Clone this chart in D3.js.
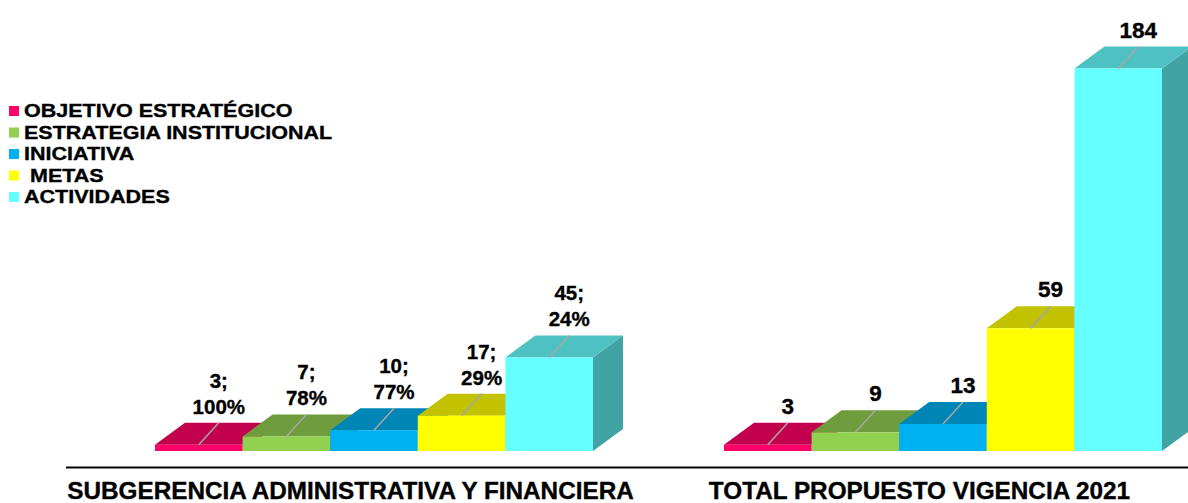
<!DOCTYPE html>
<html>
<head>
<meta charset="utf-8">
<script src="https://cdn.jsdelivr.net/npm/d3@7"></script>
<style>
  html, body { margin: 0; padding: 0; background: #ffffff; }
  svg { display: block; }
  text { font-family: "Liberation Sans", Arial, Helvetica, sans-serif; font-weight: bold; fill: #000; stroke: #000; stroke-width: 0.35px; }
</style>
</head>
<body>
<svg id="chart" width="1188" height="503"></svg>
<script>
// ---- data ----
const groups = ["SUBGERENCIA ADMINISTRATIVA Y FINANCIERA", "TOTAL PROPUESTO VIGENCIA 2021"];
const seriesNames = ["OBJETIVO ESTRATÉGICO", "ESTRATEGIA INSTITUCIONAL", "INICIATIVA", " METAS", "ACTIVIDADES"];
const subgerenciaValues = [3, 7, 10, 17, 45];
const subgerenciaPercent = [100, 78, 77, 29, 24];
const totalValues = [3, 9, 13, 59, 184];

// ---- styles ----
const frontColors = ["#ff0066", "#92d050", "#00b0f0", "#ffff00", "#66ffff"];
const topColors   = ["#c2004e", "#6f9c3d", "#0086b6", "#c2c200", "#4ec2c2"];
const sideColors  = ["#a30042", "#5d8333", "#00719a", "#a3a300", "#41a3a3"];

const W = 1188, H = 503;
const svg = d3.select("#chart");

const depthX = 30, depthY = 22;
const baseY = 451;

const groupData = [
  { name: groups[0], values: subgerenciaValues, pct: subgerenciaPercent, fontSize: 20.5 },
  { name: groups[1], values: totalValues, pct: null, fontSize: 22.5 }
];

const x0 = d3.scaleBand().domain(groups).range([66, 66 + 2 * 569]);
const x1 = d3.scaleBand().domain(seriesNames)
  .range([89, 89 + 438]).paddingInner(0).paddingOuter(0);
const y = d3.scaleLinear().domain([0, d3.max(totalValues)]).range([baseY, 68.5]);

// ---- bars ----
groupData.forEach(g => {
  const gx = x0(g.name);
  const layer = svg.append("g");
  g.values.forEach((v, i) => {
    const xl = gx + x1(seriesNames[i]);
    const xr = xl + x1.bandwidth();
    const yt = y(v);
    const yb = y(0);
    layer.append("path")
      .attr("d", `M${xr},${yb} L${xr + depthX},${yb - depthY} L${xr + depthX},${yt - depthY} L${xr},${yt} Z`)
      .attr("fill", sideColors[i]);
    layer.append("path")
      .attr("d", `M${xl},${yt} L${xr},${yt} L${xr + depthX},${yt - depthY} L${xl + depthX},${yt - depthY} Z`)
      .attr("fill", topColors[i]);
    layer.append("rect")
      .attr("x", xl).attr("y", yt)
      .attr("width", xr - xl).attr("height", yb - yt)
      .attr("fill", frontColors[i]);
  });
  g.values.forEach((v, i) => {
    const xl = gx + x1(seriesNames[i]);
    const cx = xl + x1.bandwidth() / 2;
    const yt = y(v);
    const ex = cx + 20, ey = yt - 22;
    layer.append("line")
      .attr("x1", cx).attr("y1", yt)
      .attr("x2", ex).attr("y2", ey)
      .attr("stroke", "#a6a6a6").attr("stroke-width", 1.6);
    const t = layer.append("text")
      .attr("text-anchor", "middle")
      .attr("font-size", g.fontSize);
    if (g.pct) {
      t.append("tspan").attr("x", ex).attr("y", ey - 9 - 26).text(v + ";");
      t.append("tspan").attr("x", ex).attr("y", ey - 9).text(g.pct[i] + "%");
    } else {
      t.attr("x", ex).attr("y", ey - 9).text(v);
    }
  });
});

// ---- axis ----
svg.append("line")
  .attr("x1", 66).attr("x2", W)
  .attr("y1", 467.5).attr("y2", 467.5)
  .attr("stroke", "#000").attr("stroke-width", 2);

svg.selectAll("text.cat")
  .data(groups)
  .enter().append("text")
  .attr("class", "cat")
  .attr("x", d => x0(d) + x0.bandwidth() / 2)
  .attr("y", 499)
  .attr("text-anchor", "middle")
  .attr("font-size", 23.5)
  .each(function(d) {
    const el = d3.select(this).text(d).attr("font-size", 24.3);
    const w = this.getComputedTextLength();
    el.attr("font-size", 23)
      .attr("textLength", w)
      .attr("lengthAdjust", "spacingAndGlyphs");
  });

// ---- legend ----
const legend = svg.append("g");
seriesNames.forEach((s, i) => {
  const by = 117 + i * 21.5;
  legend.append("rect")
    .attr("x", 9).attr("y", by - 11)
    .attr("width", 10).attr("height", 10)
    .attr("fill", frontColors[i]);
  const t = legend.append("text")
    .attr("x", 24).attr("y", by)
    .attr("font-size", 21.5)
    .attr("xml:space", "preserve")
    .style("white-space", "pre")
    .text(s);
  const w = t.node().getComputedTextLength();
  t.attr("font-size", 19)
    .attr("textLength", w)
    .attr("lengthAdjust", "spacingAndGlyphs");
});
</script>
</body>
</html>
